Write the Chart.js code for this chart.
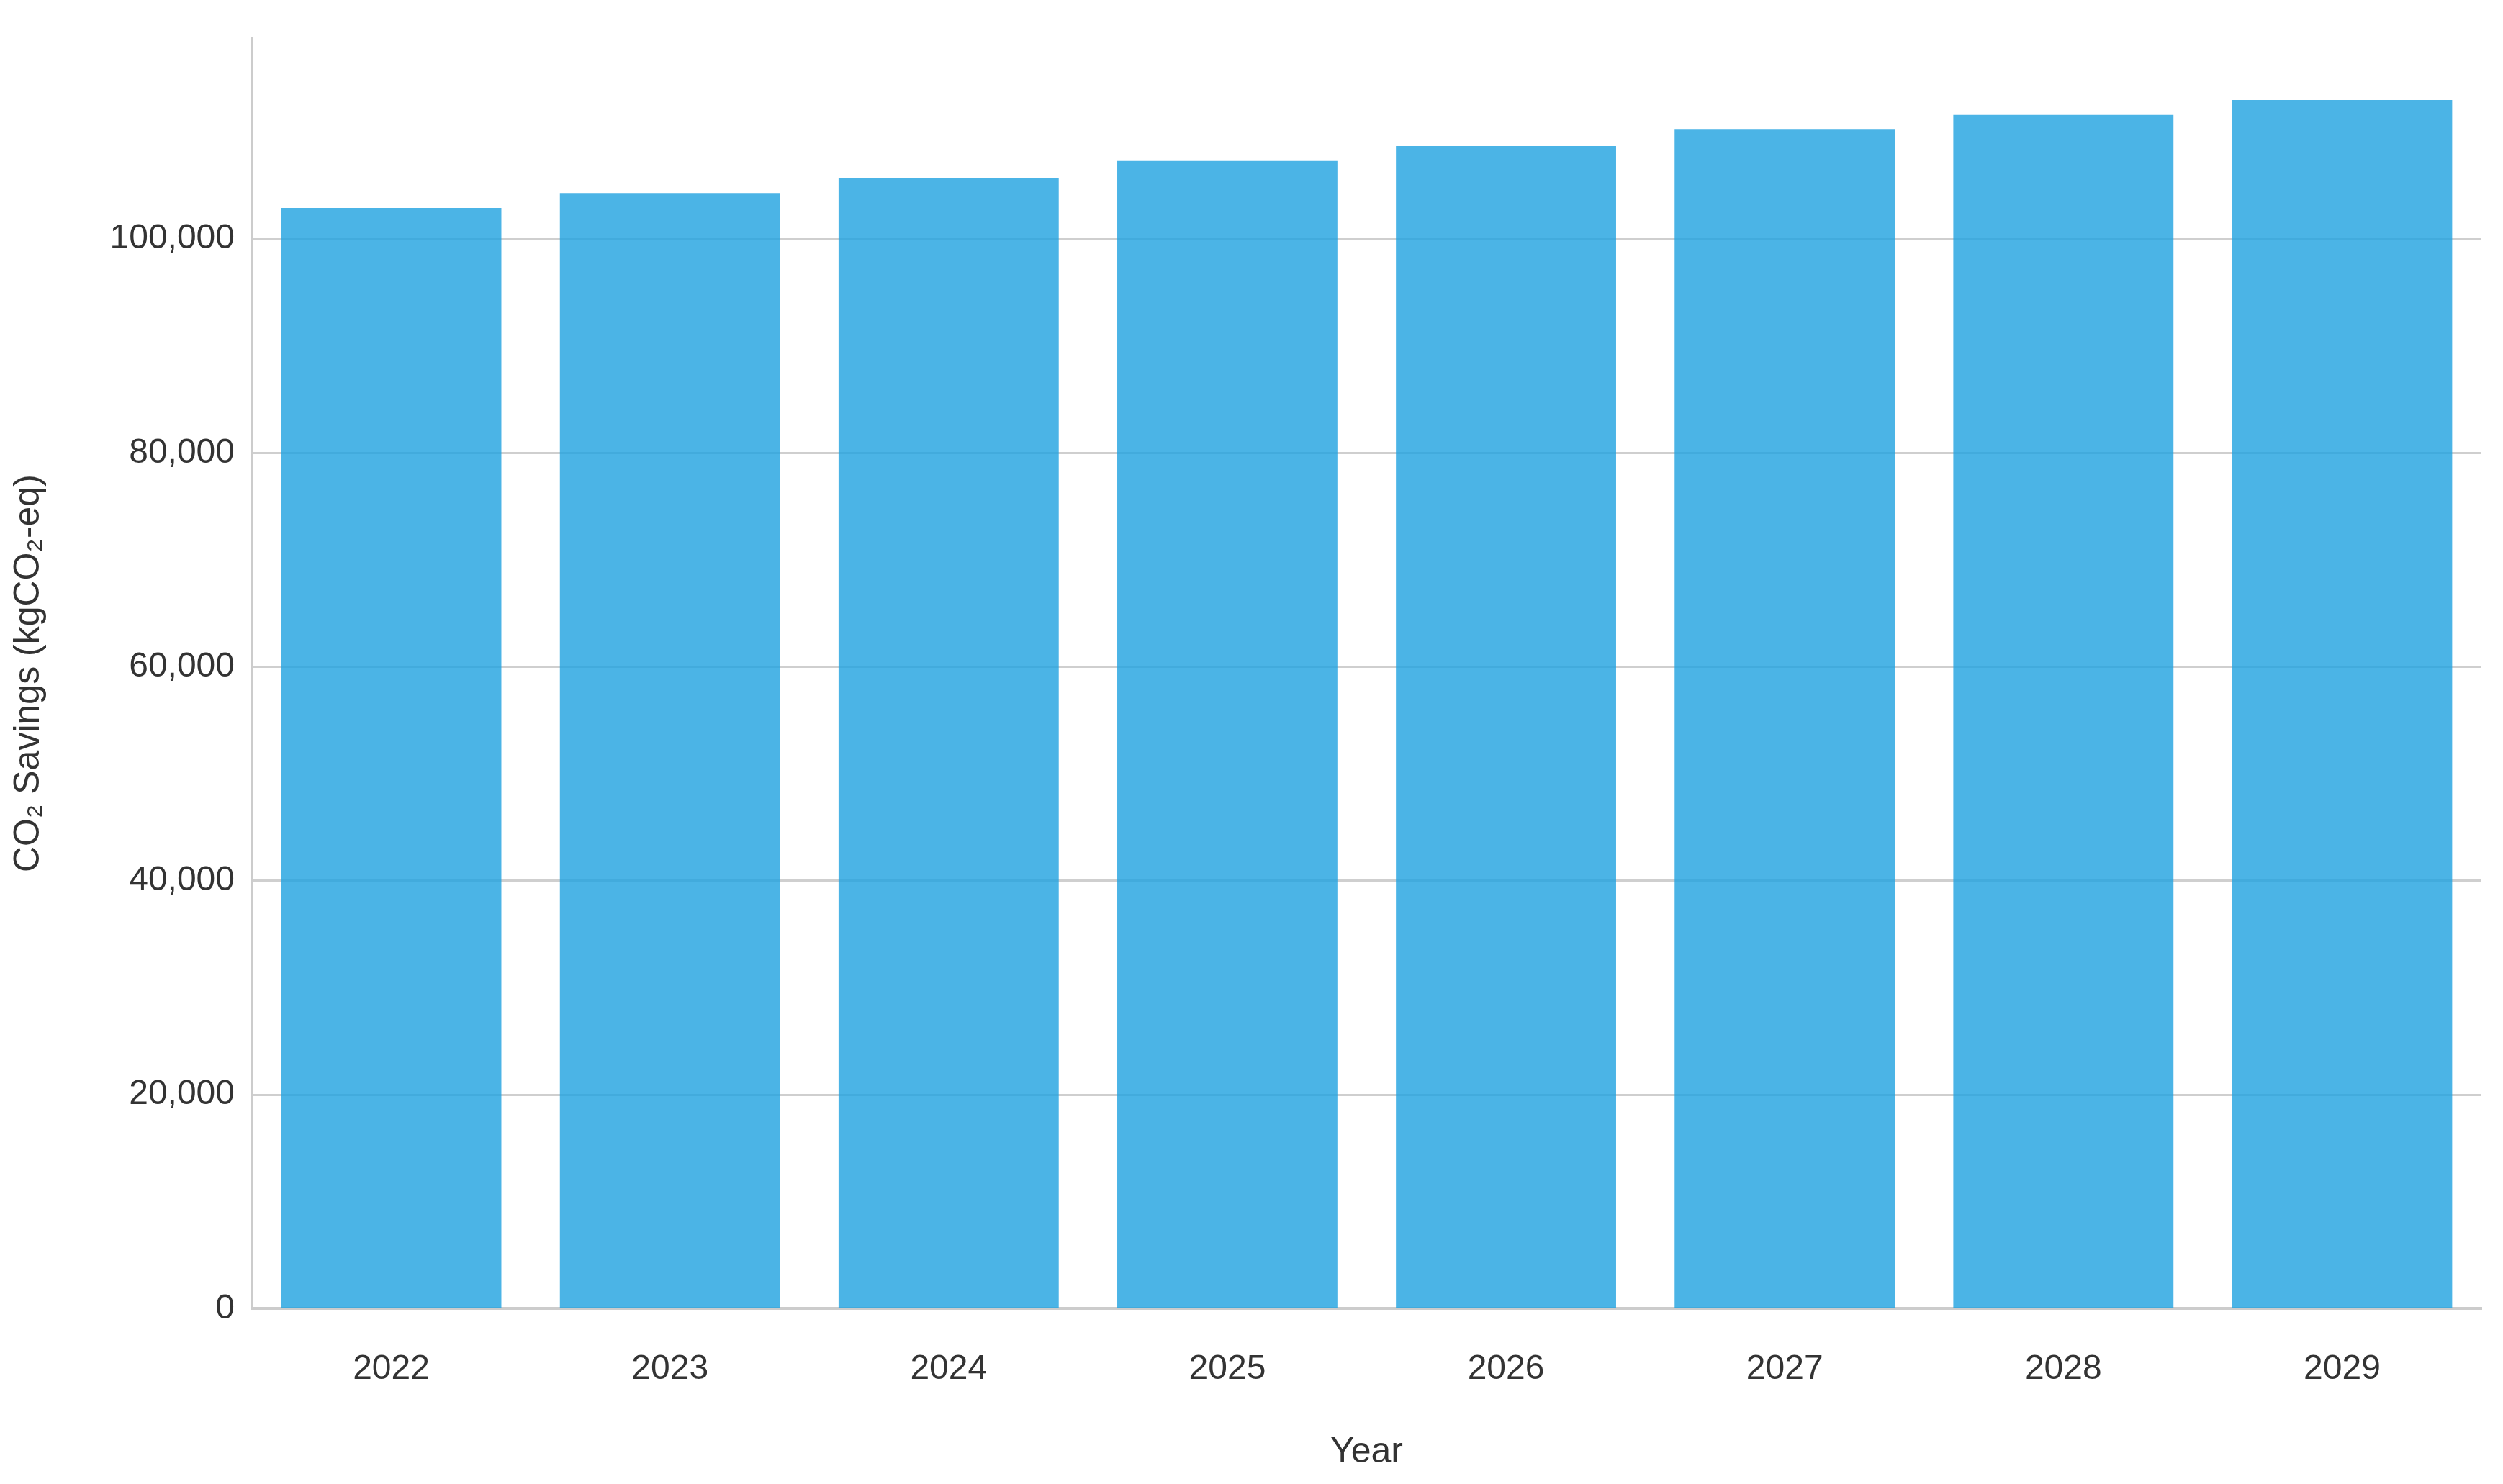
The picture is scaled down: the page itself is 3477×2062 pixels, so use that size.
<!DOCTYPE html>
<html>
<head>
<meta charset="utf-8">
<script src="https://cdn.jsdelivr.net/npm/chart.js@4/dist/chart.umd.min.js"></script>
<style>
  html, body { margin: 0; padding: 0; background: #fff; }
  #wrap { width: 3477px; height: 2062px; }
</style>
</head>
<body>
<div id="wrap"><canvas id="chart"></canvas></div>
<script>
// Data
const years = ['2022', '2023', '2024', '2025', '2026', '2027', '2028', '2029'];
const savings = [102900, 104300, 105700, 107300, 108700, 110300, 111600, 113000];
const yTicks = [0, 20000, 40000, 60000, 80000, 100000];

const ctx = document.getElementById('chart').getContext('2d');
new Chart(ctx, {
  type: 'bar',
  data: {
    labels: years,
    datasets: [{
      label: 'CO₂ Savings',
      data: savings,
      backgroundColor: 'rgba(30,161,224,0.8)',
      borderWidth: 0,
      categoryPercentage: 1,
      barPercentage: 0.79
    }]
  },
  options: {
    responsive: true,
    maintainAspectRatio: false,
    animation: false,
    devicePixelRatio: 1,
    layout: { padding: { top: 27, right: 30, bottom: 14, left: 10 } },
    plugins: { legend: { display: false }, tooltip: { enabled: false } },
    scales: {
      x: {
        grid: { display: false, drawTicks: false },
        border: { display: true, color: '#cccccc', width: 4 },
        ticks: { color: '#333', font: { family: 'Liberation Sans, Arial', size: 48 }, padding: 56 },
        title: { display: true, text: 'Year', color: '#333', font: { family: 'Liberation Sans, Arial', size: 50 }, padding: { top: 0, bottom: 0 } }
      },
      y: {
        min: 0,
        max: 118800,
        afterFit: s => { s.width = 340; },
        afterBuildTicks: s => { s.ticks = yTicks.map(v => ({ value: v })); },
        grid: { color: '#cfcfcf', lineWidth: 3, drawTicks: false },
        border: { display: true, color: '#cccccc', width: 4 },
        ticks: {
          color: '#333',
          padding: 24,
          font: { family: 'Liberation Sans, Arial', size: 48 },
          callback: v => v.toLocaleString('en-US')
        },
        title: { display: true, text: 'CO₂ Savings (kgCO₂-eq)', color: '#333', font: { family: 'Liberation Sans, Arial', size: 50 }, padding: { top: 0, bottom: 10 } }
      }
    }
  }
});
</script>
</body>
</html>
